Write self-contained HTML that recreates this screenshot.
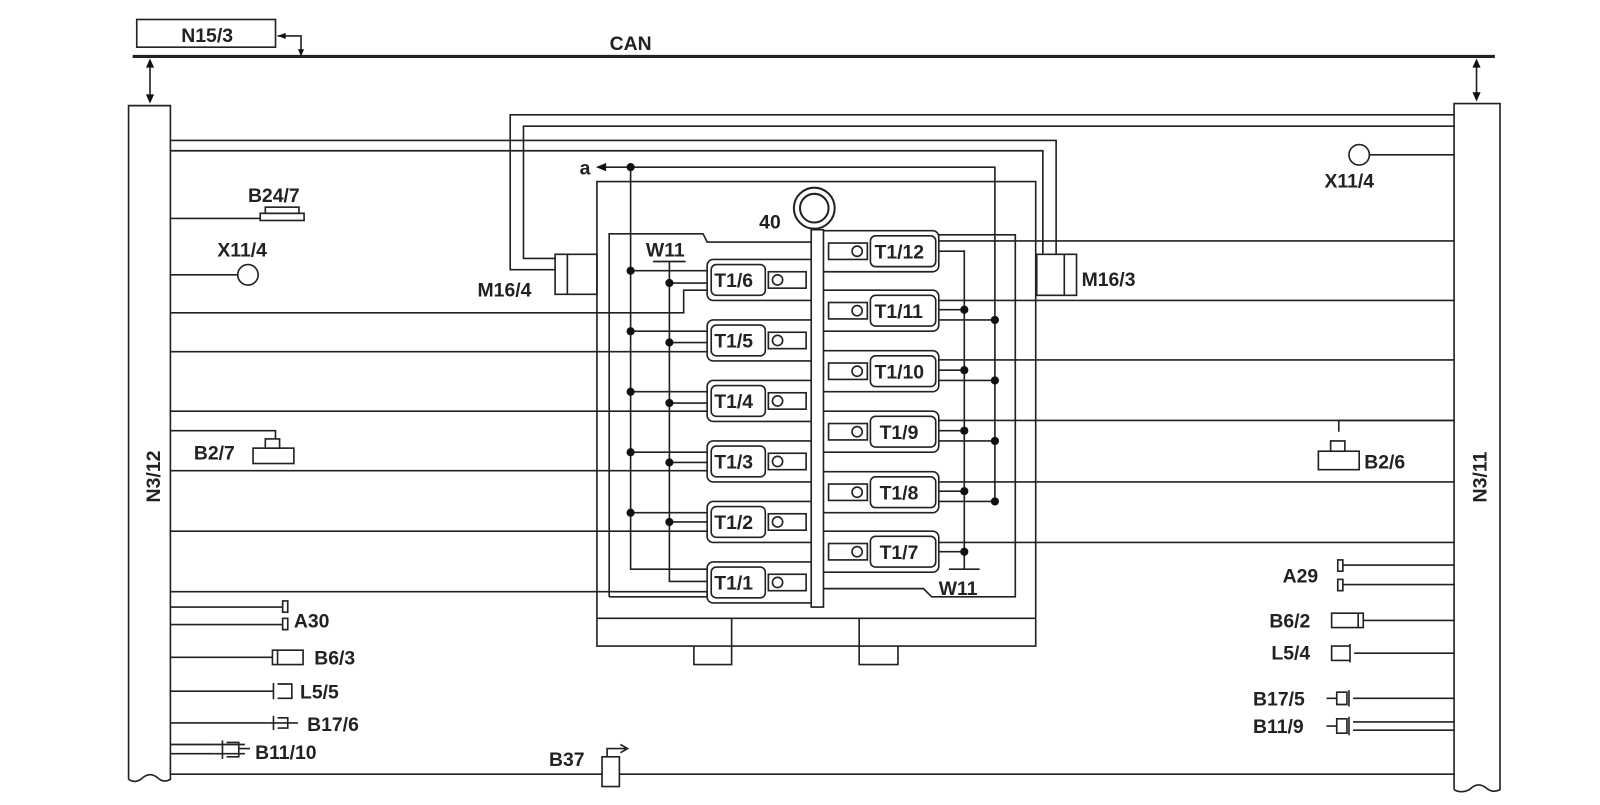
<!DOCTYPE html>
<html><head><meta charset="utf-8"><style>
html,body{margin:0;padding:0;background:#fff;}
svg{display:block;}
text{font-family:"Liberation Sans",sans-serif;font-weight:bold;fill:#222;font-size:19px;}
</style></head><body>
<svg width="1600" height="805" viewBox="0 0 1568 785" preserveAspectRatio="none" xmlns="http://www.w3.org/2000/svg">
<defs>
<g id="lc" fill="#fff" stroke="#222" stroke-width="1.6">
<rect x="693" y="-20" width="108" height="40" rx="6"/>
<rect x="697" y="-15" width="53" height="30" rx="5"/>
<rect x="753" y="-8" width="37" height="16"/>
<circle cx="762" cy="0" r="5"/>
</g>
<g id="rc" fill="#fff" stroke="#222" stroke-width="1.6">
<rect x="800" y="-20" width="120" height="40" rx="6"/>
<rect x="812" y="-8" width="38" height="16"/>
<circle cx="840" cy="0" r="5"/>
<rect x="853" y="-15" width="64" height="30" rx="5"/>
</g>
</defs>
<g fill="none" stroke="#222" stroke-width="1.6">
<line x1="130" y1="55" x2="1465" y2="55" stroke-width="3"/>
<rect x="134" y="19" width="136" height="27"/>
<path d="M272,35 H295 V53"/>
<path d="M147,60 V98 M1447,60 V96"/>
<path d="M126,760 V103 H167 V760 Q160,764 154,758 Q146,752 138,760 Q132,764 126,760" fill="#fff"/>
<path d="M1425,770 V101 H1470 V770 Q1463,774 1456,768 Q1448,762 1440,770 Q1432,774 1425,770" fill="#fff"/>
<path d="M544,263 H500 V112 H1425 M544,252 H513 V123 H1425"/>
<path d="M1022,248 V147 H167 M1035,248 V137 H167"/>
<rect x="544" y="248" width="41" height="39" fill="#fff"/><line x1="556" y1="248" x2="556" y2="287"/>
<rect x="1016" y="248" width="39" height="40" fill="#fff"/><line x1="1043" y1="248" x2="1043" y2="288"/>
<path d="M585,177 H1015 V630 H585 Z M585,603 H1015"/>
<path d="M717,603 V648 H680 V630 M842,603 V648 H880 V630"/>
<path d="M597,582 V228 H689 L693,236 H795 M807,229 H995 V582 H913 L905,574 H807 M693,582 H597"/>
<path d="M592,163 H975 V489"/>
<path d="M618,163 V555 H695 M656,255 V567 H695"/>
<path d="M640,255 H672"/>
<path d="M618,264 H695 M656,276 H695 M618,323 H695 M656,334 H695 M618,382 H695 M656,393 H695 M618,441 H695 M656,451 H695 M618,500 H695 M656,509 H695"/>
<path d="M167,305 H670 V283 H695 M167,343 H695 M167,401 H695 M167,459 H695 M167,518 H695 M167,577 H695"/>
<path d="M945,244 V555 M930,555 H960"/>
<path d="M920,235 H1425 M920,245 H945 M920,293 H1425 M920,302 H945 M920,312 H975 M920,351 H1425 M920,361 H945 M920,371 H975 M920,410 H1425 M920,420 H945 M920,430 H975 M920,470 H1425 M920,479 H945 M920,489 H975 M920,529 H1425 M920,538 H945"/>
</g>
<use href="#lc" y="273"/><use href="#lc" y="332"/><use href="#lc" y="391"/><use href="#lc" y="450"/><use href="#lc" y="509"/><use href="#lc" y="568"/>
<use href="#rc" y="245"/><use href="#rc" y="303"/><use href="#rc" y="362"/><use href="#rc" y="421"/><use href="#rc" y="480"/><use href="#rc" y="538"/>
<rect x="795" y="224" width="12" height="368" fill="#fff" stroke="#222" stroke-width="1.6"/>
<circle cx="798" cy="203" r="20" fill="#fff" stroke="#222" stroke-width="2"/>
<circle cx="798" cy="203" r="14" fill="none" stroke="#222" stroke-width="2"/>
<g fill="#111">
<circle cx="618" cy="163" r="4"/>
<circle cx="618" cy="264" r="4"/><circle cx="618" cy="323" r="4"/><circle cx="618" cy="382" r="4"/><circle cx="618" cy="441" r="4"/><circle cx="618" cy="500" r="4"/>
<circle cx="656" cy="276" r="4"/><circle cx="656" cy="334" r="4"/><circle cx="656" cy="393" r="4"/><circle cx="656" cy="451" r="4"/><circle cx="656" cy="509" r="4"/>
<circle cx="945" cy="302" r="4"/><circle cx="945" cy="361" r="4"/><circle cx="945" cy="420" r="4"/><circle cx="945" cy="479" r="4"/><circle cx="945" cy="538" r="4"/>
<circle cx="975" cy="312" r="4"/><circle cx="975" cy="371" r="4"/><circle cx="975" cy="430" r="4"/><circle cx="975" cy="489" r="4"/>
<path d="M584,163 l10,-4 v8 z"/>
<path d="M147,57 l-4,9 h8 z M147,101 l-4,-9 h8 z M1447,57 l-4,9 h8 z M1447,99 l-4,-9 h8 z M272,35 l8,-3 v6 z M295,55 l-3,-7 h6 z"/>
</g>
<g fill="#fff" stroke="#222" stroke-width="1.6">
<path d="M167,213 H255" fill="none"/>
<rect x="255" y="208" width="43" height="7"/><rect x="260" y="202" width="33" height="6"/>
<path d="M167,268 H233" fill="none"/><circle cx="243" cy="268" r="10"/>
<path d="M1342,151 H1425" fill="none"/><circle cx="1332" cy="151" r="10"/>
<path d="M167,420 H270 V428" fill="none"/>
<rect x="248" y="437" width="40" height="15"/><rect x="260" y="428" width="14" height="9"/>
<path d="M1425,410 H1312 V421" fill="none"/>
<rect x="1292" y="440" width="40" height="18"/><rect x="1304" y="430" width="14" height="10"/>
<path d="M167,592 H277 M167,609 H277" fill="none"/>
<rect x="277" y="586" width="5" height="11"/><rect x="277" y="603" width="5" height="11"/>
<path d="M167,641 H267 M167,674 H268 M167,705 H262 M167,726 H210 M167,735 H210" fill="none"/>
<path d="M267,634 H297 V648 H267 Z M272,634 V648"/>
<path d="M268,666 V682 M272,667 H286 V681 H272"/>
<path d="M262,705 H285 M268,698 V712 M272,700 H282 V710 H272 M282,705 H292"/>
<path d="M210,726 H240 M210,735 H240 M218,722 V740 M222,724 H234 V738 H222 M234,730 H245"/>
<path d="M1316,551 H1425 M1316,570 H1425 M1336,605 H1425 M1327,637 H1425 M1326,681 H1425 M1326,704 H1425 M1326,712 H1425" fill="none"/>
<rect x="1311" y="546" width="5" height="11"/><rect x="1311" y="565" width="5" height="11"/>
<path d="M1305,598 H1336 V612 H1305 Z M1331,598 V612"/>
<path d="M1305,630 H1323 V644 H1305 Z M1323,628 V646"/>
<path d="M1300,681 H1310 M1310,675 H1320 V687 H1310 Z M1322,673 V689"/>
<path d="M1300,708 H1310 M1310,701 H1320 V715 H1310 Z M1322,699 V717"/>
<path d="M167,755 H1425" fill="none"/>
<rect x="590" y="738" width="17" height="29"/>
<path d="M595,738 V730 H615 M608,726 L615,730 L608,734" fill="none"/>
</g>
<text x="203" y="41" text-anchor="middle">N15/3</text>
<text x="618" y="49" text-anchor="middle">CAN</text>
<text x="243" y="197">B24/7</text>
<text x="213" y="250">X11/4</text>
<text x="1298" y="183">X11/4</text>
<text x="190" y="448">B2/7</text>
<text x="1337" y="457">B2/6</text>
<text x="468" y="289">M16/4</text>
<text x="1060" y="279">M16/3</text>
<text x="568" y="170">a</text>
<text x="744" y="223">40</text>
<text x="633" y="250">W11</text>
<text x="920" y="580">W11</text>
<text x="288" y="612">A30</text>
<text x="308" y="648">B6/3</text>
<text x="294" y="681">L5/5</text>
<text x="301" y="713">B17/6</text>
<text x="250" y="740">B11/10</text>
<text x="1257" y="568">A29</text>
<text x="1244" y="612">B6/2</text>
<text x="1246" y="643">L5/4</text>
<text x="1228" y="688">B17/5</text>
<text x="1228" y="715">B11/9</text>
<text x="538" y="747">B37</text>
<text transform="translate(157,490) rotate(-90)">N3/12</text>
<text transform="translate(1457,490) rotate(-90)">N3/11</text>
<g style="font-size:17px">
<text x="700" y="280">T1/6</text><text x="700" y="339">T1/5</text><text x="700" y="398">T1/4</text>
<text x="700" y="457">T1/3</text><text x="700" y="516">T1/2</text><text x="700" y="575">T1/1</text>
<text x="857" y="252">T1/12</text><text x="857" y="310">T1/11</text><text x="857" y="369">T1/10</text>
<text x="862" y="428">T1/9</text><text x="862" y="487">T1/8</text><text x="862" y="545">T1/7</text>
</g>
</svg>
</body></html>
